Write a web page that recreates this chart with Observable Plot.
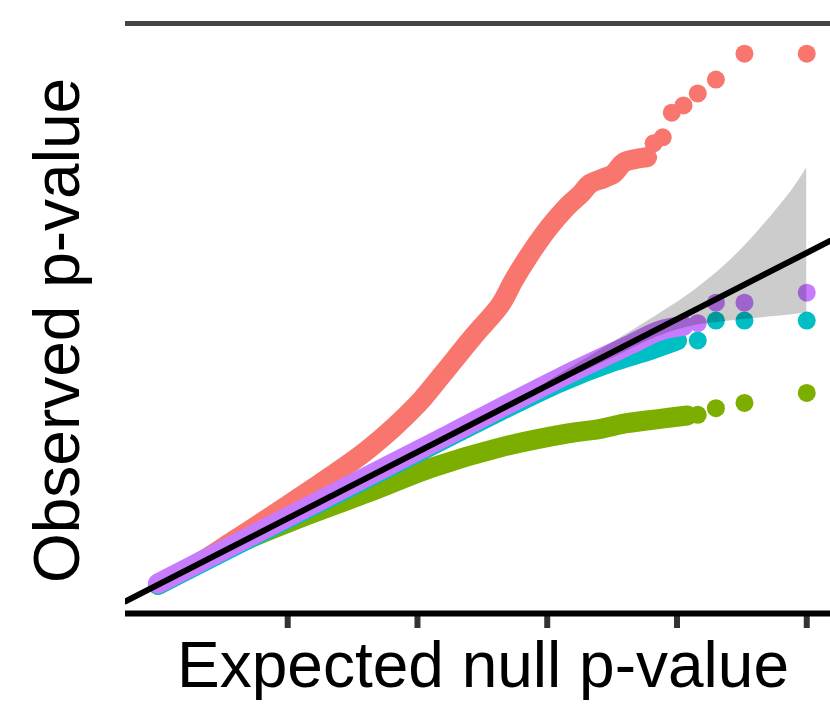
<!DOCTYPE html>
<html><head><meta charset="utf-8">
<script src="https://cdn.jsdelivr.net/npm/d3@7"></script>
<script src="https://cdn.jsdelivr.net/npm/@observablehq/plot@0.6"></script>
<style>body{margin:0;background:#fff;overflow:hidden}</style>
</head><body><div id="chart"></div>
<script>
// ---- data (expected vs observed -log10 p) ----
const seriesNames = ["A", "B", "C", "D"];
const seriesColors = ["#F8766D", "#7CAE00", "#00BFC4", "#C77CFF"];
const xTicks = [1, 2, 3, 4, 5];

// dense parts of each QQ curve
const redBandX = [0, 0.30, 0.58, 1.10, 1.62, 2.00, 2.18, 2.43, 2.64, 2.74, 2.85, 2.97, 3.05, 3.16, 3.26, 3.33, 3.43, 3.51, 3.59, 3.70, 3.77];
const redBandY = [0, 0.31, 0.66, 1.33, 2.04, 2.72, 3.14, 3.74, 4.22, 4.58, 4.93, 5.27, 5.47, 5.71, 5.89, 6.04, 6.12, 6.19, 6.36, 6.42, 6.44];
const greenBandX = [0, 0.58, 1.10, 1.62, 2.12, 2.64, 3.16, 3.41, 3.60, 3.87, 4.08];
const greenBandY = [0, 0.59, 1.01, 1.39, 1.77, 2.07, 2.28, 2.35, 2.43, 2.50, 2.55];
const cyanBandX = [0, 1.48, 2.64, 3.10, 3.49, 3.80, 4.00];
const cyanBandY = [0, 1.47, 2.62, 3.05, 3.35, 3.54, 3.68];
const purpleBandX = [0, 0.71, 1.48, 2.25, 3.10, 3.62, 3.87, 4.05];
const purpleBandY = [0.02, 0.73, 1.50, 2.27, 3.12, 3.60, 3.83, 3.90];

// sparse tail points
const redTailX = [3.82, 3.89, 3.96, 4.05, 4.16, 4.30, 4.52, 5.00];
const redTailY = [6.65, 6.74, 7.11, 7.22, 7.40, 7.61, 8.00, 8.00];
const greenTailX = [4.16, 4.30, 4.52, 5.00];
const greenTailY = [2.56, 2.66, 2.74, 2.89];
const cyanTailX = [4.16, 4.30, 4.52, 5.00];
const cyanTailY = [3.68, 3.98, 3.98, 3.98];
const purpleTailX = [4.16, 4.30, 4.52, 5.00];
const purpleTailY = [3.94, 4.25, 4.25, 4.40];

// confidence ribbon
const ribbonX  = [3.00, 3.10, 3.49, 3.87, 4.13, 4.39, 4.64, 4.90, 5.00];
const ribbonLo = [2.97, 3.05, 3.40, 3.75, 3.90, 3.97, 4.02, 4.07, 4.10];
const ribbonHi = [3.05, 3.17, 3.63, 4.09, 4.43, 4.85, 5.36, 5.98, 6.28];

const xLabel = "Expected null p-value";
const yLabel = "Observed p-value";

// ---- build tables ----
const bandsX = [redBandX, greenBandX, cyanBandX, purpleBandX];
const bandsY = [redBandY, greenBandY, cyanBandY, purpleBandY];
const tailsX = [redTailX, greenTailX, cyanTailX, purpleTailX];
const tailsY = [redTailY, greenTailY, cyanTailY, purpleTailY];
const ribbon = ribbonX.map((x, i) => ({x, lo: ribbonLo[i], hi: ribbonHi[i]}));

const xDomain = [-0.25, 5.183];
const yDomain = [-0.432, 8.454];
const pxPerY = 590 / (yDomain[1] - yDomain[0]);

const seriesMarks = [];
seriesNames.forEach((s, k) => {
  const band = bandsX[k].map((x, i) => ({x, y: bandsY[k][i], s}));
  const tail = tailsX[k].map((x, i) => ({x, y: tailsY[k][i], s}));
  seriesMarks.push(Plot.line(band, {x: "x", y: "y", stroke: "s", strokeWidth: 20, strokeLinecap: "round", strokeLinejoin: "round", curve: "catmull-rom"}));
  seriesMarks.push(Plot.dot(tail, {x: "x", y: "y", fill: "s", r: 9, stroke: "none"}));
});

const font = "'Liberation Sans', Arial, Helvetica, sans-serif";

const chart = Plot.plot({
  width: 830, height: 721,
  marginLeft: 125, marginRight: 0, marginTop: 23, marginBottom: 108,
  x: {domain: xDomain, axis: null},
  y: {domain: yDomain, axis: null},
  color: {domain: seriesNames, range: seriesColors},
  style: {fontFamily: font, background: "white", overflow: "visible"},
  marks: [
    Plot.ruleY([yDomain[1]], {stroke: "#444", strokeWidth: 5}),
    Plot.ruleX(xTicks, {y1: yDomain[0], y2: yDomain[0] - 15 / pxPerY, stroke: "#333", strokeWidth: 6}),
    Plot.ruleY([yDomain[0]], {stroke: "black", strokeWidth: 6}),
    ...seriesMarks,
    Plot.areaY(ribbon, {x: "x", y1: "lo", y2: "hi", fill: "black", fillOpacity: 0.2, curve: "catmull-rom"}),
    Plot.line(xDomain, {x: d => d, y: d => d, stroke: "black", strokeWidth: 6, clip: true}),
    Plot.text([xLabel], {frameAnchor: "bottom", dx: 5, dy: 73, fontSize: 64, fill: "black", fontFamily: font}),
    Plot.text([yLabel], {frameAnchor: "left", textAnchor: "middle", rotate: -90, dx: -67, dy: 12, fontSize: 64, fill: "black", fontFamily: font})
  ]
});
document.getElementById("chart").appendChild(chart);
</script>
</body></html>
